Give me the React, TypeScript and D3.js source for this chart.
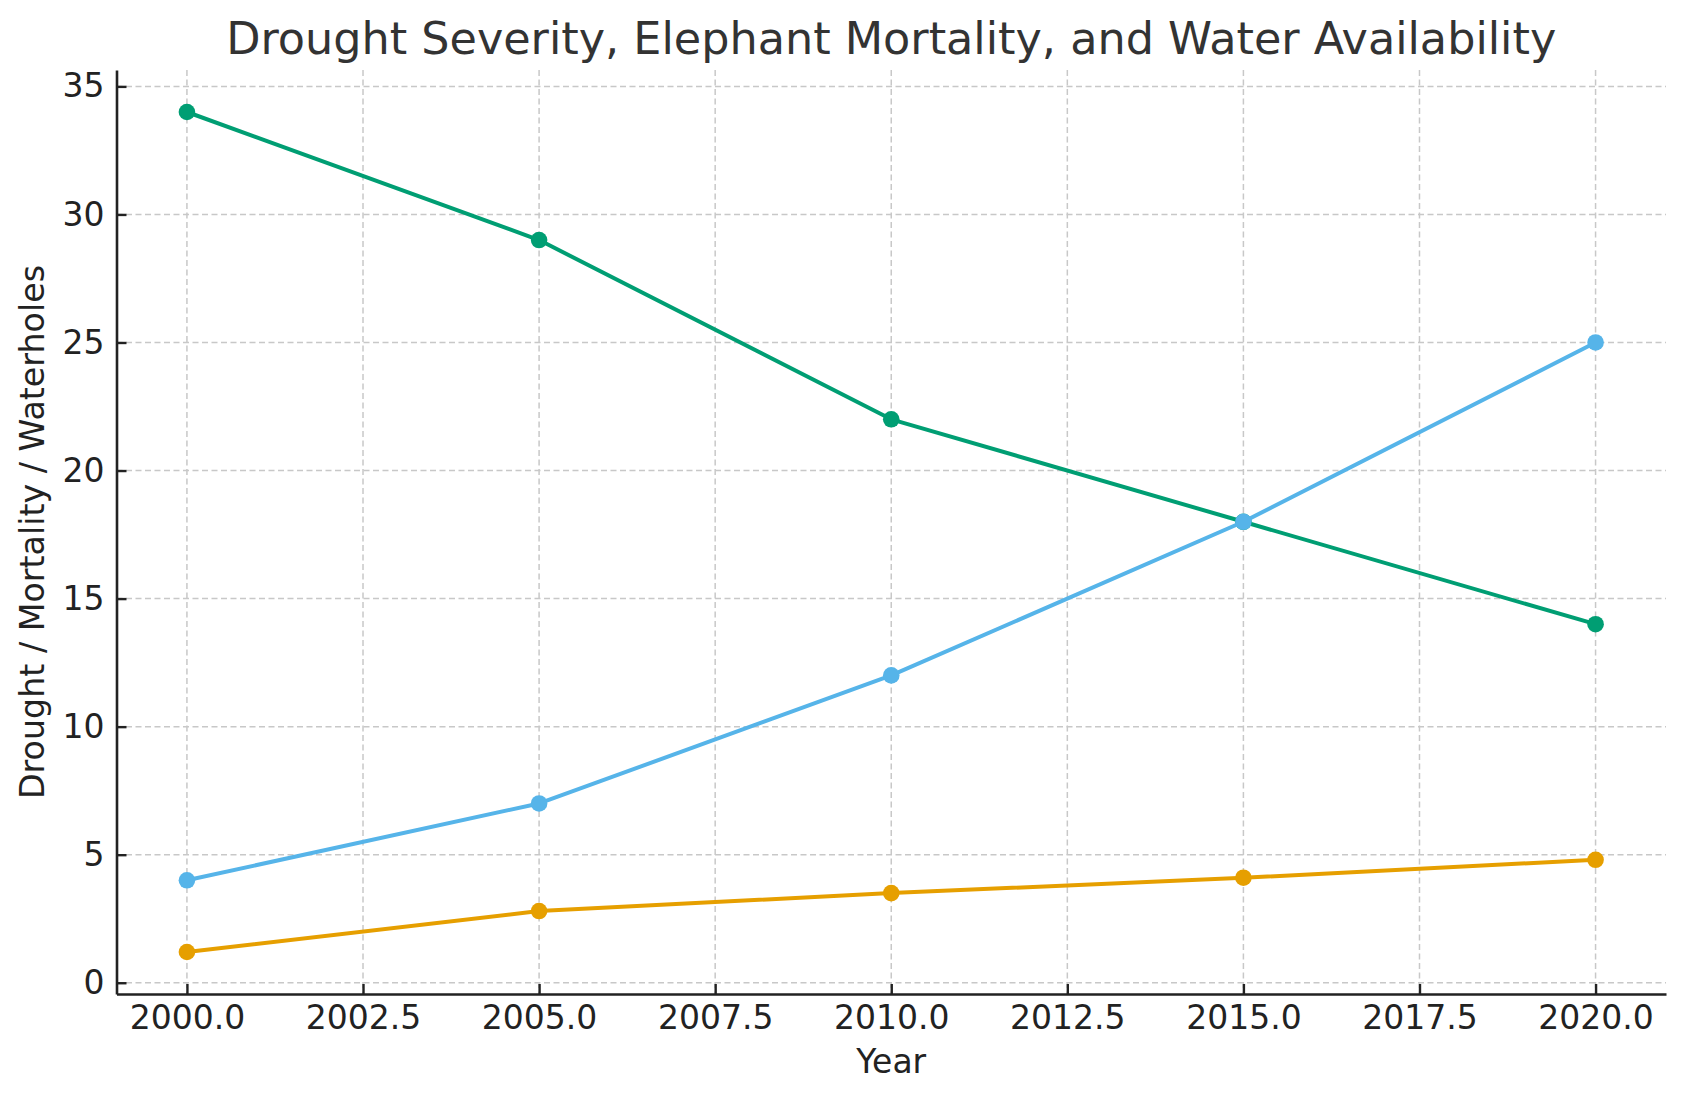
import React, { useRef, useEffect } from "react";
import * as d3 from "d3";

const years = [2000, 2005, 2010, 2015, 2020];
const mortality = [34, 29, 22, 18, 14];
const drought = [4, 7, 12, 18, 25];
const waterholes = [1.2, 2.8, 3.5, 4.1, 4.8];
const xTicks = [2000, 2002.5, 2005, 2007.5, 2010, 2012.5, 2015, 2017.5, 2020];
const yTicks = [0, 5, 10, 15, 20, 25, 30, 35];

const seriesList = [
  { name: "Mortality", values: mortality, color: "#009E73" },
  { name: "Drought", values: drought, color: "#56B4E9" },
  { name: "Waterholes", values: waterholes, color: "#E69F00" },
];

const WIDTH = 1686;
const HEIGHT = 1101;
const margin = { top: 70, right: 20, bottom: 107, left: 116.5 };
const FONT = "DejaVu Sans, sans-serif";

const App = () => {
  const svgRef = useRef(null);

  useEffect(() => {
    document.body.style.margin = "0";
    const svg = d3.select(svgRef.current);
    svg.selectAll("*").remove();

    const innerW = WIDTH - margin.left - margin.right;
    const innerH = HEIGHT - margin.top - margin.bottom;

    // matplotlib style 5% margins
    const allVals = seriesList.flatMap((s) => s.values);
    const [yMin, yMax] = d3.extent(allVals);
    const yPad = (yMax - yMin) * 0.05;
    const [xMin, xMax] = d3.extent(years);
    const xPad = (xMax - xMin) * 0.05;

    const x = d3.scaleLinear().domain([xMin - xPad, xMax + xPad]).range([0, innerW]);
    const y = d3.scaleLinear().domain([yMin - yPad, yMax + yPad]).range([innerH, 0]);

    const g = svg.append("g").attr("transform", `translate(${margin.left}, ${margin.top})`);

    // grid
    g.append("g")
      .selectAll("line")
      .data(xTicks)
      .enter()
      .append("line")
      .attr("x1", (d) => x(d))
      .attr("x2", (d) => x(d))
      .attr("y1", 0)
      .attr("y2", innerH)
      .attr("stroke", "#c8c8c8")
      .attr("stroke-width", 1.5)
      .attr("stroke-dasharray", "6,3.5");

    g.append("g")
      .selectAll("line")
      .data(yTicks)
      .enter()
      .append("line")
      .attr("x1", 0)
      .attr("x2", innerW)
      .attr("y1", (d) => y(d))
      .attr("y2", (d) => y(d))
      .attr("stroke", "#c8c8c8")
      .attr("stroke-width", 1.5)
      .attr("stroke-dasharray", "6,3.5");

    // axes
    const xAxis = g.append("g")
      .attr("transform", `translate(0, ${innerH})`)
      .call(d3.axisBottom(x).tickValues(xTicks).tickFormat(d3.format(".1f")).tickSizeInner(-10).tickSizeOuter(0).tickPadding(12));
    const yAxis = g.append("g")
      .call(d3.axisLeft(y).tickValues(yTicks).tickSizeInner(-10).tickSizeOuter(0).tickPadding(12));

    [xAxis, yAxis].forEach((ax) => {
      ax.select(".domain").attr("stroke", "#222").attr("stroke-width", 2.6);
      ax.selectAll(".tick line").attr("stroke", "#222").attr("stroke-width", 2.4);
      ax.selectAll(".tick text").attr("fill", "#222").attr("font-family", FONT).attr("font-size", 33);
    });
    xAxis.selectAll(".tick text").attr("dy", "0.71em").attr("y", 12);
    yAxis.selectAll(".tick text").attr("x", -12);

    // lines + markers
    const line = d3.line().x((d, i) => x(years[i])).y((d) => y(d));
    seriesList.forEach((s) => {
      g.append("path")
        .datum(s.values)
        .attr("fill", "none")
        .attr("stroke", s.color)
        .attr("stroke-width", 4)
        .attr("stroke-linejoin", "round")
        .attr("d", line);
      g.selectAll(null)
        .data(s.values)
        .enter()
        .append("circle")
        .attr("cx", (d, i) => x(years[i]))
        .attr("cy", (d) => y(d))
        .attr("r", 8.3)
        .attr("fill", s.color);
    });

    // title and labels
    svg.append("text")
      .attr("x", margin.left + innerW / 2)
      .attr("y", 54)
      .attr("text-anchor", "middle")
      .attr("font-family", FONT)
      .attr("font-size", 44.5)
      .attr("fill", "#333")
      .text("Drought Severity, Elephant Mortality, and Water Availability");

    svg.append("text")
      .attr("x", margin.left + innerW / 2)
      .attr("y", 1073)
      .attr("text-anchor", "middle")
      .attr("font-family", FONT)
      .attr("font-size", 33)
      .attr("fill", "#222")
      .text("Year");

    svg.append("text")
      .attr("transform", `translate(44, ${margin.top + innerH / 2}) rotate(-90)`)
      .attr("text-anchor", "middle")
      .attr("font-family", FONT)
      .attr("font-size", 33.3)
      .attr("fill", "#222")
      .text("Drought / Mortality / Waterholes");
  }, []);

  return <svg ref={svgRef} width={WIDTH} height={HEIGHT} style={{ display: "block" }}></svg>;
};

export default App;
